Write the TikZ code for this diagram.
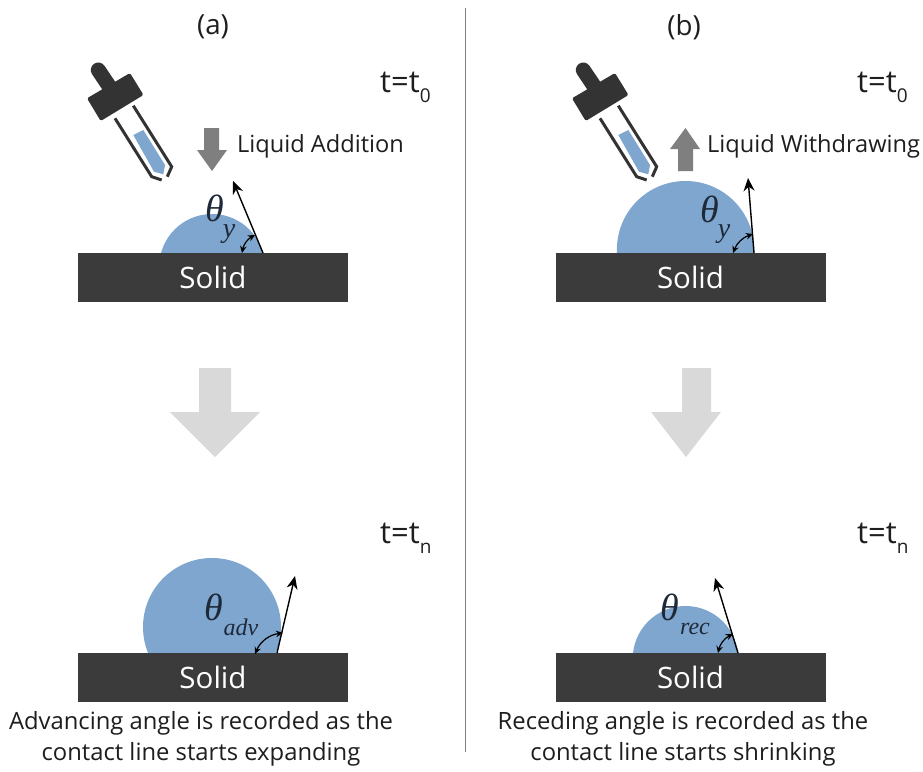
\documentclass[tikz,border=0pt]{standalone}
\usepackage{fontspec}
\setmainfont{Open Sans}
\newfontfamily\subfont{Liberation Serif}
\usetikzlibrary{arrows.meta}
\definecolor{solidc}{HTML}{3B3B3B}
\definecolor{dropc}{HTML}{7FA6CE}
\definecolor{darkc}{HTML}{333333}
\definecolor{midc}{HTML}{7F7F7F}
\definecolor{lightc}{HTML}{D9D9D9}
\definecolor{textc}{HTML}{1E1E1E}
\definecolor{mathc}{HTML}{1E2A3A}
\tikzset{
  solidbox/.style={fill=solidc,draw=none,minimum width=270pt,minimum height=49pt,inner sep=0pt,text=white,font=\fontsize{29.5}{30}\selectfont},
  lbl/.style={text=textc,inner sep=0pt,font=\fontsize{23.6}{30}\selectfont},
  headlbl/.style={text=textc,inner sep=0pt,font=\fontsize{27.7}{30}\selectfont},
  timelbl/.style={text=textc,inner sep=0pt,anchor=base west,font=\fontsize{31}{31}\selectfont},
  captext/.style={text=textc,inner sep=0pt,align=center,font=\fontsize{23.8}{31}\selectfont},
  thetalbl/.style={text=mathc,inner sep=0pt,font=\subfont\itshape\fontsize{38}{38}\selectfont},
  sublbl/.style={text=mathc,inner sep=0pt,font=\subfont\itshape\fontsize{24}{24}\selectfont},
  ysublbl/.style={text=mathc,inner sep=0pt,font=\subfont\itshape\fontsize{28}{28}\selectfont},
  normalarrow/.style={-{Stealth[length=13pt,width=11pt]},line width=1.4pt,black},
  anglearrow/.style={{Stealth[length=7pt,width=6.5pt]}-{Stealth[length=7pt,width=6.5pt]},line width=1.2pt,black},
  barrel/.style={draw=darkc,line width=3pt,line cap=butt,line join=miter},
}
\newcommand{\dropperdraw}{%
  \fill[darkc,rounded corners=1.5pt] (87,98.3)--(130,73)--(143.5,95)--(100.7,121)--cycle;
  \draw[darkc,line width=15pt,line cap=round] (98.3,70)--(113,92);
  \draw[barrel] (115,118.3)--(151.7,176.7)--(161.7,180);
  \draw[barrel] (133.3,105.7)--(171.7,166.7)--(167.3,176.7);
  \fill[dropc] (133.3,135)--(143.3,130)--(165,165)--(163.3,174.3)--(154,171.7)--cycle;
}
\newcommand{\timetext}[1]{t=t\raisebox{-10pt}{\fontsize{19}{19}\selectfont #1}}
\begin{document}
\begin{tikzpicture}[x=1pt,y=-1pt]
\useasboundingbox (0,0) rectangle (923,771);
\fill[white] (0,0) rectangle (923,771);
% divider
\coordinate (divtop) at (465,8);
\coordinate (divbot) at (465,752);
\draw[midc,line width=1pt] (divtop)--(divbot);
% headers
\node[headlbl] (a) at (213,27) {(a)};
\node[headlbl] (b) at (684,27) {(b)};
\node[timelbl] (t0a) at (380,92) {\timetext{0}};
\node[timelbl] (t0b) at (857,92) {\timetext{0}};
\node[timelbl] (tna) at (380,543) {\timetext{n}};
\node[timelbl] (tnb) at (857,543) {\timetext{n}};
% droppers
\dropperdraw
\begin{scope}[xshift=485pt]\dropperdraw\end{scope}
% drops
\begin{scope}
\clip (0,0) rectangle (923,253);
\fill[dropc] (212,266.8) circle (52.8);
\fill[dropc] (685.5,249.6) circle (68.6);
\end{scope}
\begin{scope}
\clip (0,300) rectangle (923,653);
\fill[dropc] (212,627) circle (69);
\fill[dropc] (685.5,658.8) circle (52.8);
\end{scope}
% solids
\node[solidbox] (s1) at (213,277.5) {Solid};
\node[solidbox] (s2) at (690.5,277.5) {Solid};
\node[solidbox] (s3) at (213,677.5) {Solid};
\node[solidbox] (s4) at (690.5,677.5) {Solid};
% small arrows
\fill[midc] (204,128)--(219,128)--(219,150)--(227,150)--(212,171)--(197,150)--(204,150)--cycle;
\fill[midc] (678,171)--(693,171)--(693,149)--(700,149)--(685.5,128)--(670,149)--(678,149)--cycle;
\node[lbl,anchor=west] (add) at (237,146) {Liquid Addition};
\node[lbl,anchor=west] (wd) at (707,146) {Liquid Withdrawing};
% big arrows
\fill[lightc] (199,368)--(231,368)--(231,412)--(260,412)--(215,457)--(170,412)--(199,412)--cycle;
\fill[lightc] (682,368)--(711,368)--(711,412)--(721,412)--(686,457)--(651,412)--(682,412)--cycle;
% normals
\coordinate (n1a) at (263,253); \coordinate (n1b) at (233,181);
\coordinate (n2a) at (754,253); \coordinate (n2b) at (748,178);
\coordinate (n3a) at (277,653); \coordinate (n3b) at (295,576);
\coordinate (n4a) at (738,653); \coordinate (n4b) at (715,578);
\draw[normalarrow] (n1a)--(n1b);
\draw[normalarrow] (n2a)--(n2b);
\draw[normalarrow] (n3a)--(n3b);
\draw[normalarrow] (n4a)--(n4b);
% angle arcs
\coordinate (a1a) at (242,253); \coordinate (a1b) at (255,235);
\coordinate (a2a) at (733,253); \coordinate (a2b) at (753,234);
\coordinate (a3a) at (255,654); \coordinate (a3b) at (283,633);
\coordinate (a4a) at (718,653); \coordinate (a4b) at (733,634);
\draw[anglearrow] (a1a) to[bend left=25] (a1b);
\draw[anglearrow] (a2a) to[bend left=25] (a2b);
\draw[anglearrow] (a3a) to[bend left=30] (a3b);
\draw[anglearrow] (a4a) to[bend left=25] (a4b);
% theta labels
\node[thetalbl] (th1) at (215,208) {θ};
\node[ysublbl] (y1) at (229,234) {y};
\node[thetalbl] (th2) at (710,209) {θ};
\node[ysublbl] (y2) at (724,234) {y};
\node[thetalbl] (th3) at (214,607) {θ};
\node[sublbl] (adv) at (241,627) {adv};
\node[thetalbl] (th4) at (670,607) {θ};
\node[sublbl] (rec) at (695,629) {rec};
% captions
\node[captext] (c1) at (201,739) {Advancing angle is recorded as the\\contact line starts expanding};
\node[captext] (c2) at (683,739) {Receding angle is recorded as the\\contact line starts shrinking};
\end{tikzpicture}
\end{document}
